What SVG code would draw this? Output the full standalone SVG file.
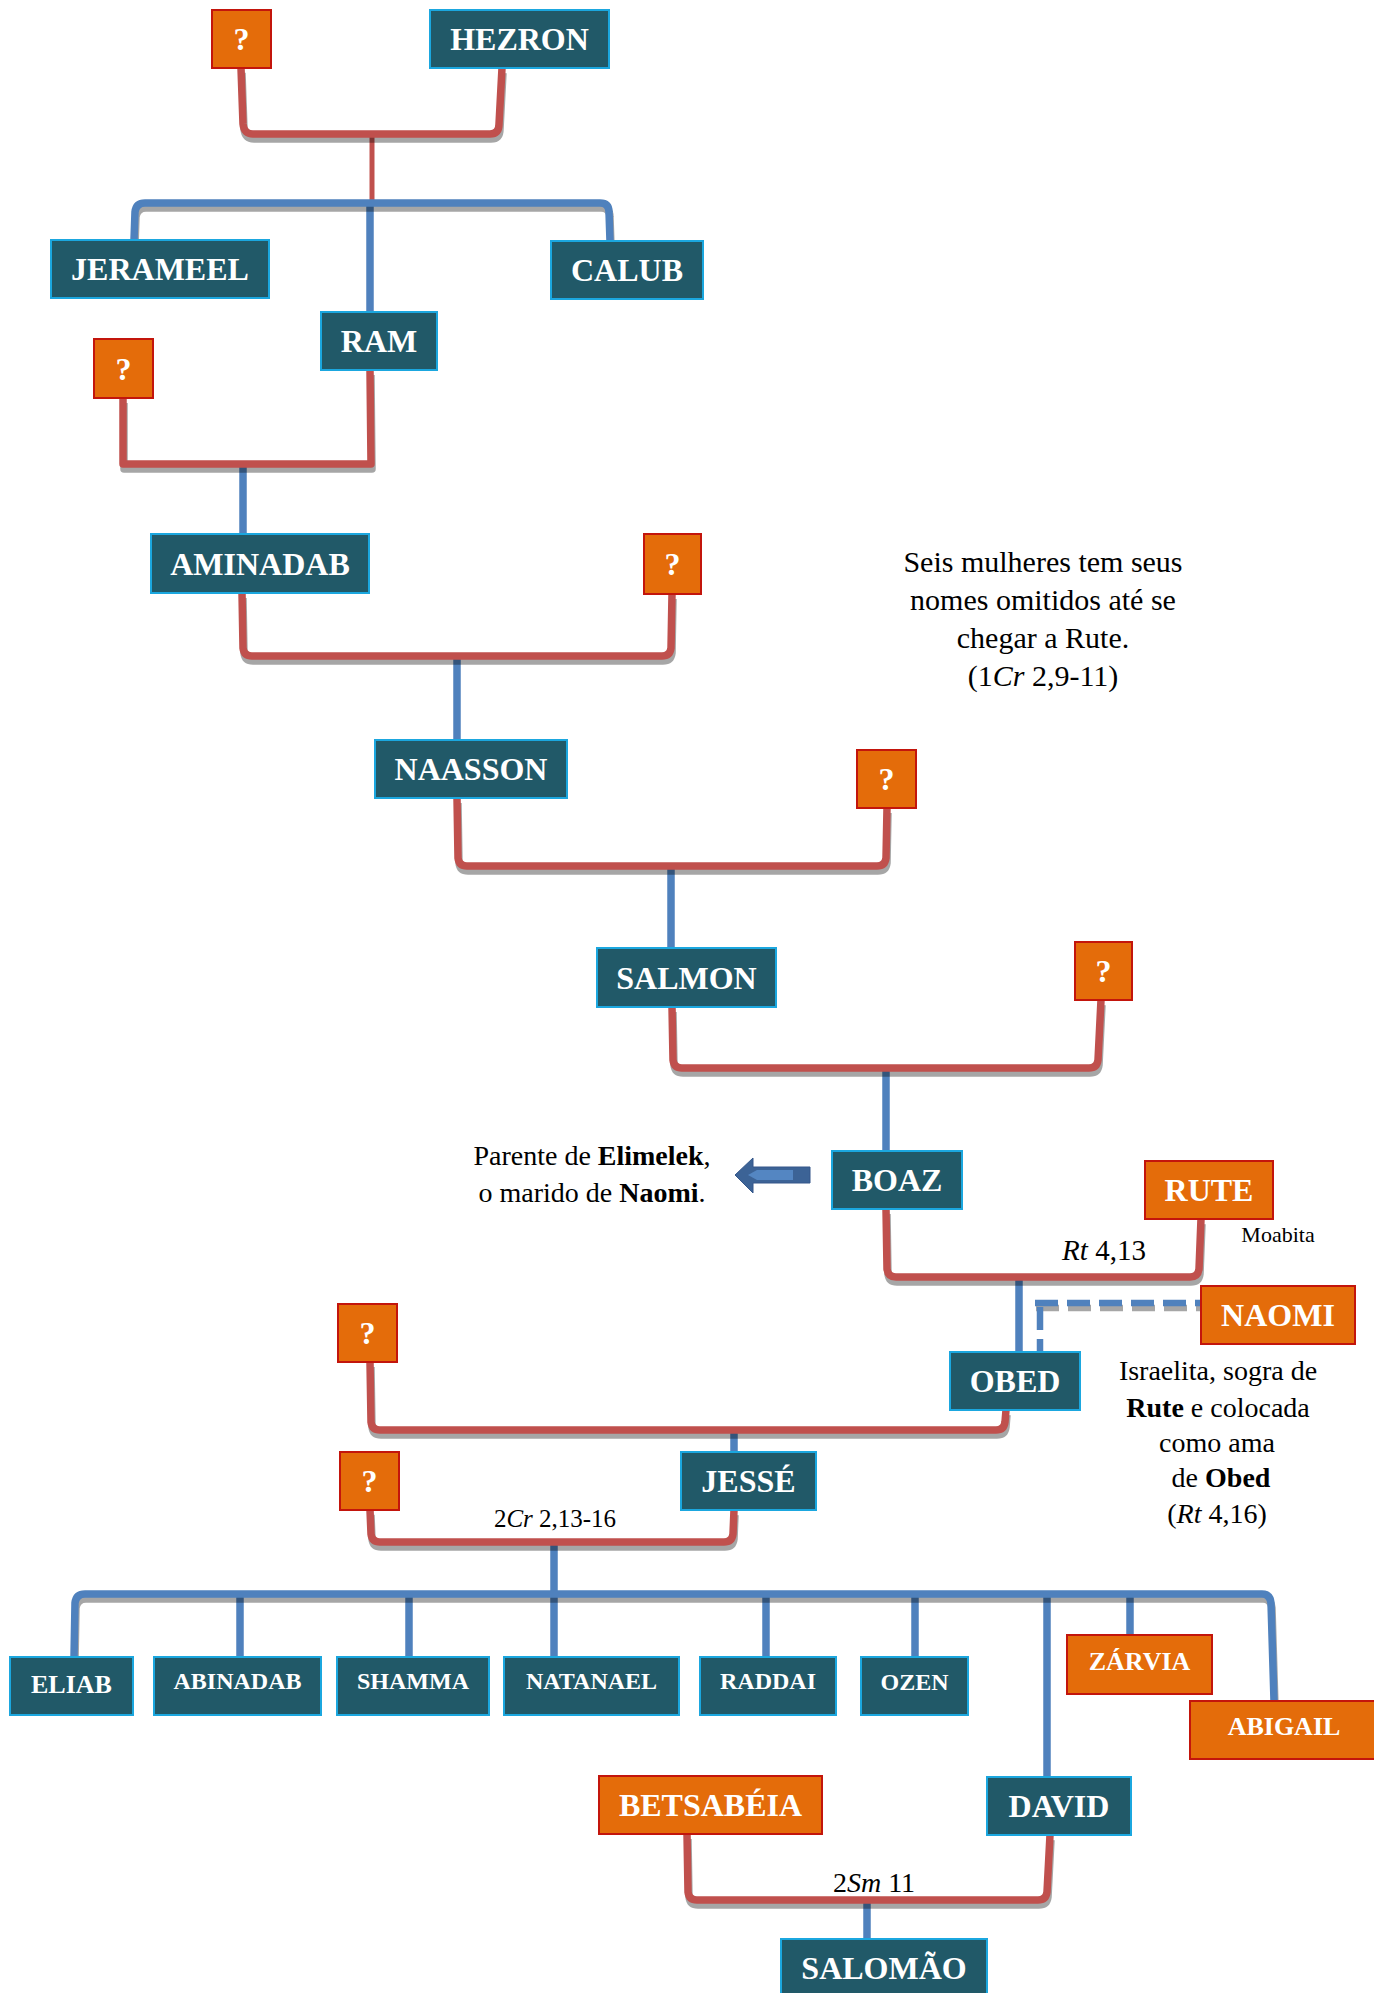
<svg xmlns="http://www.w3.org/2000/svg" xmlns:xlink="http://www.w3.org/1999/xlink" width="1374" height="1993" viewBox="0 0 1374 1993">
<style>
.t{fill:#215968;stroke:#1ba7df;stroke-width:2}
.o{fill:#e46c0a;stroke:#c3150c;stroke-width:2}
.lbl{font-family:"Liberation Serif",serif;font-weight:bold;font-size:32px;fill:#fff;text-anchor:middle}
.sm{font-size:24px}
.md{font-size:26px}
.red{fill:none;stroke:#c0504d;stroke-width:7.5;stroke-linejoin:round}
.blue{fill:none;stroke:#4f81bd;stroke-width:7.5;stroke-linejoin:round}
.shd{fill:none;stroke:#000;stroke-opacity:0.35;stroke-width:7.5;stroke-linejoin:round}
.dash{fill:none;stroke:#4f81bd;stroke-width:6.5;stroke-dasharray:23 9}
.note{font-family:"Liberation Serif",serif;font-size:28px;fill:#000;text-anchor:middle}
</style>
<defs>
<path id="p1" d="M241,68 L243,124 Q244,134 253,134 L490,134 Q499,134 499,124 L502,68"/>
<path id="p2" d="M134,240 L135,212 Q136,203 145,203 L600,203 Q609,203 609,212 L610,241"/>
<path id="p3" d="M123,398 L123,464 L371,464 L370,370"/>
<path id="p4" d="M242,593 L243,648 Q244,656 252,656 L662,656 Q670,656 671,648 L672,594"/>
<path id="p5" d="M457,798 L458,858 Q459,866 467,866 L877,866 Q885,866 886,858 L887,808"/>
<path id="p6" d="M672,1007 L673,1060 Q674,1068 682,1068 L1089,1068 Q1097,1068 1098,1060 L1101,1000"/>
<path id="p7" d="M886,1209 L887,1269 Q888,1277 896,1277 L1190,1277 Q1198,1277 1199,1269 L1201,1219"/>
<path id="p9" d="M370,1362 L371,1422 Q372,1430 380,1430 L996,1430 Q1004,1430 1005,1422 L1006,1410"/>
<path id="p10" d="M370,1510 L371,1534 Q372,1542 380,1542 L724,1542 Q732,1542 733,1534 L734,1510"/>
<path id="p11" d="M74,1657 L75,1603 Q76,1594 85,1594 L1262,1594 Q1270,1594 1271,1603 L1274,1701"/>
<path id="p12" d="M687,1834 L688,1892 Q689,1900 697,1900 L1038,1900 Q1046,1900 1047,1892 L1050,1835"/>
<path id="p8" d="M1035,1303 L1201,1303"/>
</defs>
<g id="connectors">
<!-- vertical descent lines -->
<line class="red" x1="372" y1="134" x2="372" y2="203" style="stroke-width:5"/>
<line class="blue" x1="370" y1="203" x2="370" y2="312"/>
<line class="blue" x1="243" y1="464" x2="243" y2="534"/>
<line class="blue" x1="457" y1="656" x2="457" y2="740"/>
<line class="blue" x1="671" y1="866" x2="671" y2="948"/>
<line class="blue" x1="886" y1="1068" x2="886" y2="1151"/>
<line class="blue" x1="1019" y1="1277" x2="1019" y2="1352"/>
<line class="blue" x1="734" y1="1430" x2="734" y2="1452"/>
<line class="blue" x1="554" y1="1542" x2="554" y2="1657"/>
<line class="blue" x1="240" y1="1594" x2="240" y2="1657"/>
<line class="blue" x1="409" y1="1594" x2="409" y2="1657"/>
<line class="blue" x1="766" y1="1594" x2="766" y2="1657"/>
<line class="blue" x1="915" y1="1594" x2="915" y2="1657"/>
<line class="blue" x1="1047" y1="1594" x2="1047" y2="1777"/>
<line class="blue" x1="1130" y1="1594" x2="1130" y2="1635"/>
<line class="blue" x1="867" y1="1900" x2="867" y2="1939"/>
<!-- shadows -->
<g transform="translate(1,5)">
<use xlink:href="#p1" class="shd"/>
<use xlink:href="#p2" class="shd"/>
<use xlink:href="#p3" class="shd"/>
<use xlink:href="#p4" class="shd"/>
<use xlink:href="#p5" class="shd"/>
<use xlink:href="#p6" class="shd"/>
<use xlink:href="#p7" class="shd"/>
<use xlink:href="#p9" class="shd"/>
<use xlink:href="#p10" class="shd"/>
<use xlink:href="#p11" class="shd"/>
<use xlink:href="#p12" class="shd"/>
<use xlink:href="#p8" class="shd" style="stroke-width:6.5;stroke-dasharray:23 9"/>
</g>
<!-- main lines -->
<use xlink:href="#p1" class="red"/>
<use xlink:href="#p2" class="blue"/>
<use xlink:href="#p3" class="red"/>
<use xlink:href="#p4" class="red"/>
<use xlink:href="#p5" class="red"/>
<use xlink:href="#p6" class="red"/>
<use xlink:href="#p7" class="red"/>
<use xlink:href="#p9" class="red"/>
<use xlink:href="#p10" class="red"/>
<use xlink:href="#p11" class="blue"/>
<use xlink:href="#p12" class="red"/>
<use xlink:href="#p8" class="dash"/>
<line class="dash" x1="1040" y1="1307" x2="1040" y2="1352"/>
<!-- arrow -->
<polygon points="735,1175 753,1158 753,1167 810,1167 810,1183 753,1183 753,1193" fill="#3c6396" stroke="#34578a" stroke-width="1"/>
<polygon points="748,1175 757,1170 793,1170 793,1180 757,1180" fill="#5486c2"/>
</g>
<g id="n-q1"><rect class="o" x="212" y="10" width="59" height="58"/><text class="lbl" x="241.5" y="50">?</text></g>
<g id="n-hezron"><rect class="t" x="430" y="10" width="179" height="58"/><text class="lbl" x="519.5" y="50">HEZRON</text></g>
<g id="n-jerameel"><rect class="t" x="51" y="240" width="218" height="58"/><text class="lbl" x="160" y="280">JERAMEEL</text></g>
<g id="n-calub"><rect class="t" x="551" y="241" width="152" height="58"/><text class="lbl" x="627" y="281">CALUB</text></g>
<g id="n-ram"><rect class="t" x="321" y="312" width="116" height="58"/><text class="lbl" x="379" y="352">RAM</text></g>
<g id="n-q2"><rect class="o" x="94" y="339" width="59" height="59"/><text class="lbl" x="123.5" y="380">?</text></g>
<g id="n-aminadab"><rect class="t" x="151" y="534" width="218" height="59"/><text class="lbl" x="260" y="575">AMINADAB</text></g>
<g id="n-q3"><rect class="o" x="644" y="534" width="57" height="60"/><text class="lbl" x="672.5" y="575">?</text></g>
<g id="n-naasson"><rect class="t" x="375" y="740" width="192" height="58"/><text class="lbl" x="471" y="780">NAASSON</text></g>
<g id="n-q4"><rect class="o" x="857" y="750" width="59" height="58"/><text class="lbl" x="886.5" y="790">?</text></g>
<g id="n-salmon"><rect class="t" x="597" y="948" width="179" height="59"/><text class="lbl" x="686.5" y="989">SALMON</text></g>
<g id="n-q5"><rect class="o" x="1075" y="942" width="57" height="58"/><text class="lbl" x="1103.5" y="982">?</text></g>
<g id="n-boaz"><rect class="t" x="832" y="1151" width="130" height="58"/><text class="lbl" x="897" y="1191">BOAZ</text></g>
<g id="n-rute"><rect class="o" x="1145" y="1161" width="128" height="58"/><text class="lbl" x="1209" y="1201">RUTE</text></g>
<g id="n-naomi"><rect class="o" x="1201" y="1286" width="154" height="58"/><text class="lbl" x="1278" y="1326">NAOMI</text></g>
<g id="n-obed"><rect class="t" x="950" y="1352" width="130" height="58"/><text class="lbl" x="1015" y="1392">OBED</text></g>
<g id="n-q6"><rect class="o" x="338" y="1304" width="59" height="58"/><text class="lbl" x="367.5" y="1344">?</text></g>
<g id="n-jesse"><rect class="t" x="681" y="1452" width="135" height="58"/><text class="lbl" x="748.5" y="1492">JESSÉ</text></g>
<g id="n-q7"><rect class="o" x="340" y="1452" width="59" height="58"/><text class="lbl" x="369.5" y="1492">?</text></g>
<g id="n-eliab"><rect class="t" x="10" y="1657" width="123" height="58"/><text class="lbl md" x="71.5" y="1693">ELIAB</text></g>
<g id="n-abinadab"><rect class="t" x="154" y="1657" width="167" height="58"/><text class="lbl sm" x="237.5" y="1689">ABINADAB</text></g>
<g id="n-shamma"><rect class="t" x="337" y="1657" width="152" height="58"/><text class="lbl sm" x="413" y="1689">SHAMMA</text></g>
<g id="n-natanael"><rect class="t" x="504" y="1657" width="175" height="58"/><text class="lbl sm" x="591.5" y="1689">NATANAEL</text></g>
<g id="n-raddai"><rect class="t" x="700" y="1657" width="136" height="58"/><text class="lbl sm" x="768" y="1689">RADDAI</text></g>
<g id="n-ozen"><rect class="t" x="861" y="1657" width="107" height="58"/><text class="lbl sm" x="914.5" y="1690">OZEN</text></g>
<g id="n-zarvia"><rect class="o" x="1067" y="1635" width="145" height="59"/><text class="lbl md" x="1139.5" y="1670">ZÁRVIA</text></g>
<g id="n-abigail"><rect class="o" x="1190" y="1701" width="190" height="58"/><text class="lbl md" x="1284" y="1735">ABIGAIL</text></g>
<g id="n-betsabeia"><rect class="o" x="599" y="1776" width="223" height="58"/><text class="lbl" x="710.5" y="1816">BETSABÉIA</text></g>
<g id="n-david"><rect class="t" x="987" y="1777" width="144" height="58"/><text class="lbl" x="1059" y="1817">DAVID</text></g>
<g id="n-salomao"><rect class="t" x="781" y="1939" width="206" height="58"/><text class="lbl" x="884" y="1979">SALOMÃO</text></g>
<g id="notes">
<text class="note" style="font-size:30px" x="1043" y="572">Seis mulheres tem seus</text>
<text class="note" style="font-size:30px" x="1043" y="610">nomes omitidos até se</text>
<text class="note" style="font-size:30px" x="1043" y="648">chegar a Rute.</text>
<text class="note" style="font-size:30px" x="1043" y="686">(1<tspan font-style="italic">Cr</tspan> 2,9-11)</text>
<text class="note" x="592" y="1165">Parente de <tspan font-weight="bold">Elimelek</tspan>,</text>
<text class="note" x="592" y="1202">o marido de <tspan font-weight="bold">Naomi</tspan>.</text>
<text class="note" style="font-size:29px" x="1104" y="1260"><tspan font-style="italic">Rt</tspan> 4,13</text>
<text class="note" style="font-size:22px" x="1278" y="1242">Moabita</text>
<text class="note" x="1218" y="1380">Israelita, sogra de</text>
<text class="note" x="1218" y="1417"><tspan font-weight="bold">Rute</tspan> e colocada</text>
<text class="note" x="1217" y="1452">como ama</text>
<text class="note" x="1221" y="1487">de <tspan font-weight="bold">Obed</tspan></text>
<text class="note" x="1217" y="1523">(<tspan font-style="italic">Rt</tspan> 4,16)</text>
<text class="note" style="font-size:25px" x="555" y="1527">2<tspan font-style="italic">Cr</tspan> 2,13-16</text>
<text class="note" x="874" y="1892">2<tspan font-style="italic">Sm</tspan> 11</text>
</g>
</svg>
